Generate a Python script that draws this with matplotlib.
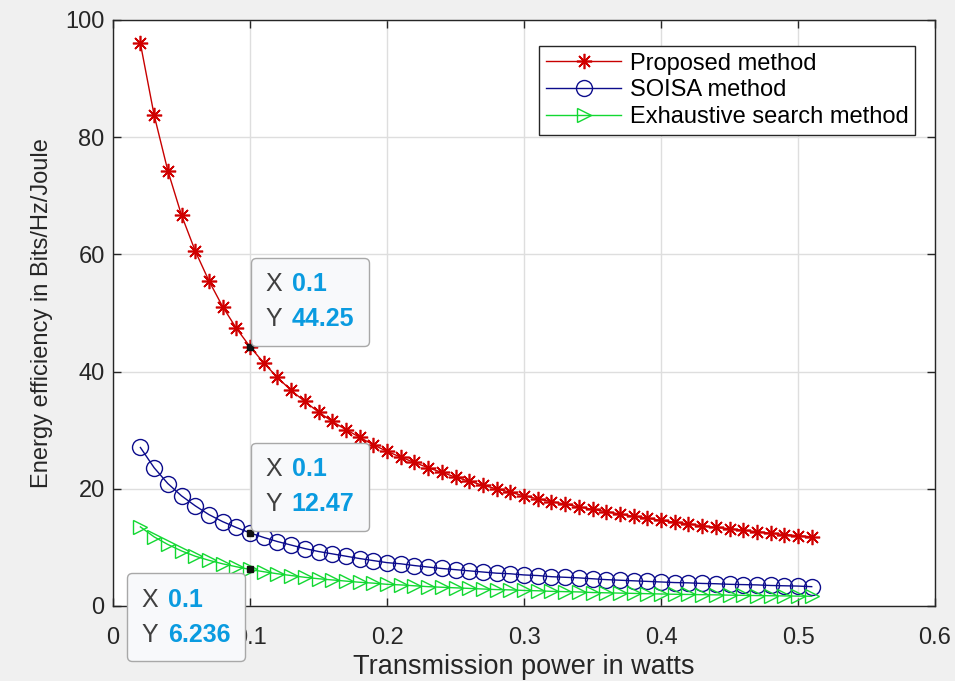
import matplotlib
matplotlib.use("Agg")
import matplotlib.pyplot as plt
from matplotlib.offsetbox import TextArea, HPacker, VPacker, AnnotationBbox

plt.rcParams['font.family'] = ['Liberation Sans', 'DejaVu Sans']

# Transmission power (W)
power = [0.02, 0.03, 0.04, 0.05, 0.06, 0.07, 0.08, 0.09, 0.10, 0.11,
         0.12, 0.13, 0.14, 0.15, 0.16, 0.17, 0.18, 0.19, 0.20, 0.21,
         0.22, 0.23, 0.24, 0.25, 0.26, 0.27, 0.28, 0.29, 0.30, 0.31,
         0.32, 0.33, 0.34, 0.35, 0.36, 0.37, 0.38, 0.39, 0.40, 0.41,
         0.42, 0.43, 0.44, 0.45, 0.46, 0.47, 0.48, 0.49, 0.50, 0.51]

proposed = [96.0, 83.8, 74.3, 66.7, 60.6, 55.5, 51.1, 47.4, 44.25, 41.5,
            39.0, 36.8, 34.9, 33.1, 31.5, 30.1, 28.8, 27.5, 26.4, 25.4,
            24.5, 23.6, 22.8, 22.0, 21.3, 20.6, 20.0, 19.4, 18.8, 18.3,
            17.8, 17.4, 16.9, 16.5, 16.1, 15.7, 15.3, 15.0, 14.6, 14.3,
            14.0, 13.7, 13.4, 13.2, 12.9, 12.7, 12.4, 12.2, 12.0, 11.8]

soisa = [27.05, 23.6, 20.9, 18.8, 17.1, 15.6, 14.4, 13.4, 12.47, 11.7,
         11.0, 10.4, 9.8, 9.3, 8.9, 8.5, 8.1, 7.75, 7.4, 7.2,
         6.9, 6.65, 6.4, 6.2, 6.0, 5.8, 5.6, 5.5, 5.3, 5.2,
         5.0, 4.9, 4.8, 4.65, 4.5, 4.4, 4.3, 4.2, 4.1, 4.0,
         3.95, 3.85, 3.8, 3.7, 3.65, 3.6, 3.5, 3.45, 3.4, 3.3]

exhaustive = [13.5, 11.8, 10.5, 9.4, 8.5, 7.8, 7.2, 6.7, 6.236, 5.85,
              5.5, 5.2, 4.9, 4.65, 4.45, 4.25, 4.05, 3.9, 3.7, 3.6,
              3.45, 3.3, 3.2, 3.1, 3.0, 2.9, 2.8, 2.75, 2.65, 2.6,
              2.5, 2.45, 2.4, 2.3, 2.25, 2.2, 2.15, 2.1, 2.05, 2.0,
              1.97, 1.93, 1.9, 1.85, 1.82, 1.78, 1.75, 1.72, 1.69, 1.66]

labels = ['Proposed method', 'SOISA method', 'Exhaustive search method']
xticks = [0, 0.1, 0.2, 0.3, 0.4, 0.5, 0.6]
xticklabels = ['0', '0.1', '0.2', '0.3', '0.4', '0.5', '0.6']
yticks = [0, 20, 40, 60, 80, 100]

# Data tips shown at P = 0.1 W
tip_x = 0.1
tip_series = [proposed, soisa, exhaustive]

TXT = '#262626'
TIP_VAL = '#0a9be0'

fig = plt.figure(figsize=(9.55, 6.81), dpi=100, facecolor='#f0f0f0')
ax = fig.add_axes([113 / 955, 1 - 606 / 681, 822 / 955, 586 / 681])
ax.set_facecolor('white')

ax.plot(power, proposed, '-', color='#c80000', lw=1.0, marker=(8, 2, 0),
        ms=11, mec='#d00000', mew=1.2, label=labels[0])
ax.plot(power, soisa, '-', color='#0c0c8c', lw=1.0, marker='o',
        ms=11.5, mfc='none', mec='#0c0c8c', mew=1.0, label=labels[1])
ax.plot(power, exhaustive, '-', color='#12d832', lw=1.0, marker='>',
        ms=10, mfc='none', mec='#12d832', mew=1.0, label=labels[2])

ax.set_xlim(0, 0.6)
ax.set_ylim(0, 100)
ax.set_xticks(xticks)
ax.set_xticklabels(xticklabels)
ax.set_yticks(yticks)
ax.grid(True, color='#dedede', lw=1.0)
ax.set_axisbelow(True)
ax.tick_params(direction='in', length=6, width=1, top=True, right=True,
               labelsize=17, colors=TXT)
ax.tick_params(axis='x', pad=15)
ax.tick_params(axis='y', pad=6)
for s in ax.spines.values():
    s.set_color(TXT)
    s.set_linewidth(1.0)

ax.set_xlabel('Transmission power in watts', fontsize=19.5, color=TXT,
              labelpad=4)
ax.set_ylabel('Energy efficiency in Bits/Hz/Joule', fontsize=17,
              color=TXT, labelpad=9)

leg = ax.legend(loc='upper right', bbox_to_anchor=(915 / 955, 1 - 46 / 681),
                bbox_transform=fig.transFigure, borderaxespad=0,
                fontsize=17, frameon=True, fancybox=False,
                edgecolor=TXT, framealpha=1, borderpad=0.28,
                labelspacing=0.2, handlelength=3.2, handletextpad=0.35)
leg.get_frame().set_linewidth(1.0)

# Data tips
idx = power.index(tip_x)
alignments = [(0.0, 0.0), (0.0, 0.0), (1.0, 1.0)]
offsets = [(11, 11), (11, 12), (-14, -13)]
for series, align, off in zip(tip_series, alignments, offsets):
    yv = series[idx]
    ax.plot([tip_x], [yv], 's', color='#111111', ms=5, zorder=6)
    rows = []
    for name, val in (('X', f'{tip_x:g}'), ('Y', f'{yv:g}')):
        rows.append(HPacker(children=[
            TextArea(name, textprops=dict(color='#404040', fontsize=18)),
            TextArea(val, textprops=dict(color=TIP_VAL, fontsize=18,
                                         fontweight='bold'))], pad=0, sep=7))
    box = VPacker(children=rows, pad=0, sep=8, align='left')
    ab = AnnotationBbox(box, (tip_x, yv), xybox=off, xycoords='data',
                        boxcoords='offset points', box_alignment=align,
                        frameon=True, pad=0.0, annotation_clip=False,
                        bboxprops=dict(boxstyle='round,pad=1.05,rounding_size=0.35',
                                       fc='#f8f9fb', ec='#a8a8a8', lw=1.0),
                        zorder=7)
    ax.add_artist(ab)

fig.savefig('out.png', dpi=100, facecolor=fig.get_facecolor())
